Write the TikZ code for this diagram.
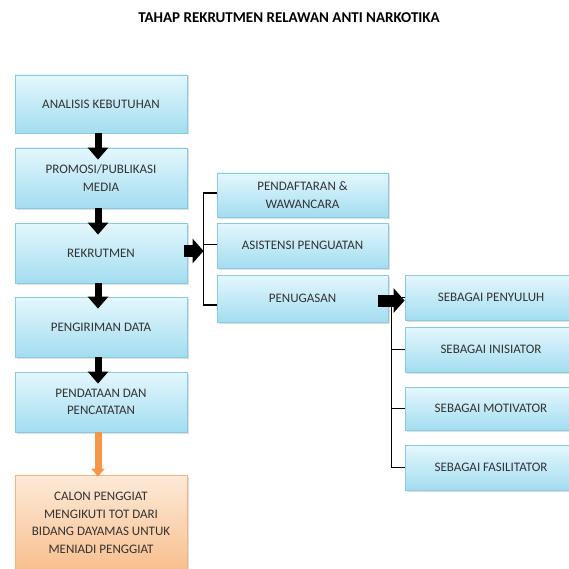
\documentclass[tikz,border=0pt]{standalone}
\usepackage{fontspec}
\setmainfont{Carlito}
\usetikzlibrary{arrows.meta,shadows,calc}
\definecolor{boxtop}{HTML}{E4F7FD}
\definecolor{boxbot}{HTML}{A3DDF0}
\definecolor{boxline}{HTML}{86CBE3}
\definecolor{orgtop}{HTML}{FDEAD8}
\definecolor{orgbot}{HTML}{F8BF8E}
\definecolor{orgline}{HTML}{F3B27E}
\definecolor{orgarrow}{HTML}{F79646}
\definecolor{boxtext}{HTML}{333333}
\tikzset{
  stage/.style={draw=boxline, thick, top color=boxtop, bottom color=boxbot,
    minimum width=172pt, align=center, text=boxtext, font=\fontsize{13}{17.5}\selectfont,
    drop shadow={opacity=0.25, shadow xshift=1.5pt, shadow yshift=-1.5pt}},
  outcome/.style={stage, draw=orgline, top color=orgtop, bottom color=orgbot},
  downarrow/.style={line width=7pt, -{Triangle[width=20pt,length=12pt]}},
  sidearrow/.style={line width=12pt, -{Triangle[width=24pt,length=11pt]}},
  tick/.style={line width=1.6pt}
}
\begin{document}
\begin{tikzpicture}[x=1pt,y=1pt]
  \useasboundingbox (0,0) rectangle (568,-569);
  \node[font=\fontsize{15}{17}\selectfont\bfseries] (title) at (289,-18) {TAHAP REKRUTMEN RELAWAN ANTI NARKOTIKA};

  \node[stage, minimum height=58pt] (analisis) at (101,-104) {ANALISIS KEBUTUHAN};
  \node[stage, minimum height=60pt] (promosi) at (101,-178) {PROMOSI/PUBLIKASI\\MEDIA};
  \node[stage, minimum height=60pt] (rekrutmen) at (101,-253) {REKRUTMEN};
  \node[stage, minimum height=60pt] (pengiriman) at (101,-327) {PENGIRIMAN DATA};
  \node[stage, minimum height=60pt] (pendataan) at (101,-402) {PENDATAAN DAN\\PENCATATAN};
  \node[outcome, minimum height=96pt] (calon) at (101,-523) {CALON PENGGIAT\\MENGIKUTI TOT DARI\\BIDANG DAYAMAS UNTUK\\MENIADI PENGGIAT};

  \node[stage, minimum width=171pt, minimum height=44pt] (pendaftaran) at (302.5,-195) {PENDAFTARAN \&\\WAWANCARA};
  \node[stage, minimum width=171pt, minimum height=45pt] (asistensi) at (302.5,-245.5) {ASISTENSI PENGUATAN};
  \node[stage, minimum width=171pt, minimum height=47pt] (penugasan) at (302.5,-298.5) {PENUGASAN};

  \node[stage, minimum width=172pt, minimum height=45pt] (penyuluh) at (491,-297.5) {SEBAGAI PENYULUH};
  \node[stage, minimum width=172pt, minimum height=45pt] (inisiator) at (491,-349.5) {SEBAGAI INISIATOR};
  \node[stage, minimum width=172pt, minimum height=43pt] (motivator) at (491,-408.5) {SEBAGAI MOTIVATOR};
  \node[stage, minimum width=172pt, minimum height=45pt] (fasilitator) at (491,-467.5) {SEBAGAI FASILITATOR};

  \draw[downarrow] ([xshift=-3pt]analisis.south) -- ([xshift=-3pt,yshift=-12pt]promosi.north);
  \draw[downarrow] ([xshift=-3pt]promosi.south) -- ([xshift=-3pt,yshift=-12pt]rekrutmen.north);
  \draw[downarrow] ([xshift=-3pt]rekrutmen.south) -- ([xshift=-3pt,yshift=-12pt]pengiriman.north);
  \draw[downarrow] ([xshift=-3pt]pengiriman.south) -- ([xshift=-3pt,yshift=-12pt]pendataan.north);
  \draw[orgarrow, line width=7pt, -{Triangle[width=13pt,length=8pt]}] ([xshift=-3pt]pendataan.south) -- ([xshift=-3pt,yshift=-2pt]calon.north);

  \coordinate (midbar) at ($(pendaftaran.west)+(-13,2)$);
  \draw[tick] ($(pendaftaran.west)+(0,2)$) -- (midbar) |- ($(penugasan.west)+(0,-6.5)$);
  \draw[tick] ($(asistensi.west)+(0,1)$) -- ++(-13,0);
  \draw[sidearrow] ([xshift=-3pt,yshift=2pt]rekrutmen.east) -- ([yshift=2pt]rekrutmen.east -| midbar);

  \coordinate (rightbar) at ($(penyuluh.west)+(-13,0)$);
  \draw[tick] (penyuluh.west) -- (rightbar) |- (fasilitator.west);
  \draw[tick] (inisiator.west) -- ++(-13,0);
  \draw[tick] (motivator.west) -- ++(-13,0);
  \draw[sidearrow] ([xshift=-10pt,yshift=-2pt]penugasan.east) -- ([yshift=-2pt]penugasan.east -| penyuluh.west);
\end{tikzpicture}
\end{document}
